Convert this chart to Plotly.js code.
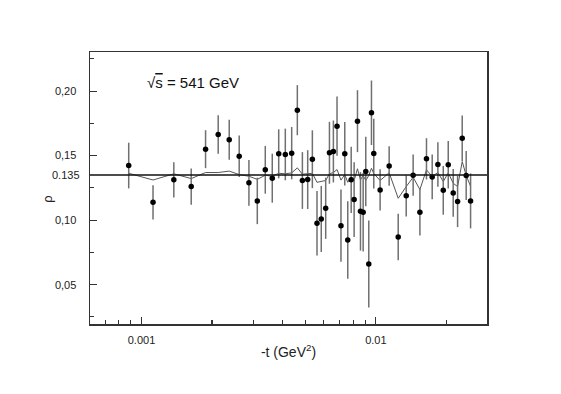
<!DOCTYPE html>
<html>
<head>
<meta charset="utf-8">
<script src="https://cdn.plot.ly/plotly-3.0.1.min.js"></script>
<style>
  html, body { margin: 0; padding: 0; background: #fff; }
  #chart { width: 561px; height: 394px; }
</style>
</head>
<body>
<div id="chart"></div>
<script>
// ------------------------------
// Data
// ------------------------------
const tVals = [0.000882, 0.00112, 0.001374, 0.00163, 0.001877, 0.002125, 0.002368, 0.002612, 0.002874, 0.00312,
  0.003375, 0.003615, 0.003851, 0.004109, 0.004375, 0.004624, 0.00486, 0.00512, 0.00536, 0.00561,
  0.00585, 0.00611, 0.00634, 0.00659, 0.00683, 0.0071, 0.00737, 0.00759, 0.00785, 0.00808,
  0.00835, 0.0086, 0.00883, 0.00906, 0.00933, 0.00958, 0.0098, 0.01043, 0.0114, 0.01246,
  0.01348, 0.01443, 0.01542, 0.01645, 0.0174, 0.0184, 0.0194, 0.02037, 0.02139, 0.02233,
  0.02337, 0.0243, 0.02537];

const rhoVals = [0.1423, 0.1138, 0.1312, 0.1260, 0.1550, 0.1664, 0.1623, 0.1495, 0.1289, 0.1149,
  0.1390, 0.1325, 0.1514, 0.1509, 0.1519, 0.1852, 0.1307, 0.1314, 0.1472, 0.0975,
  0.1009, 0.1092, 0.1522, 0.1532, 0.1728, 0.0957, 0.1514, 0.0846, 0.1312, 0.1159,
  0.1767, 0.1068, 0.1061, 0.1377, 0.0660, 0.1832, 0.1516, 0.1234, 0.1420, 0.0870,
  0.1188, 0.1348, 0.1061, 0.1475, 0.1335, 0.1431, 0.1231, 0.1429, 0.1211, 0.1144,
  0.1635, 0.1346, 0.1149];

const rhoErr = [0.0177, 0.0133, 0.0136, 0.0140, 0.0147, 0.0149, 0.0155, 0.0160, 0.0177, 0.0180,
  0.0185, 0.0190, 0.0190, 0.0200, 0.0203, 0.0194, 0.0220, 0.0228, 0.0224, 0.0250,
  0.0256, 0.0237, 0.0240, 0.0240, 0.0230, 0.0280, 0.0246, 0.0300, 0.0256, 0.0290,
  0.0240, 0.0304, 0.0305, 0.0270, 0.0337, 0.0250, 0.0270, 0.0160, 0.0153, 0.0180,
  0.0160, 0.0160, 0.0180, 0.0160, 0.0174, 0.0172, 0.0189, 0.0184, 0.0185, 0.0198,
  0.0176, 0.0190, 0.0213];

const rhoModel = [0.1363, 0.1311, 0.1359, 0.1322, 0.1369, 0.1369, 0.1380, 0.1353, 0.1340, 0.1316,
  0.1348, 0.1340, 0.1363, 0.1359, 0.1366, 0.1405, 0.1356, 0.1361, 0.1363, 0.1293,
  0.1299, 0.1307, 0.1359, 0.1369, 0.1392, 0.1310, 0.1353, 0.1293, 0.1338, 0.1307,
  0.1398, 0.1312, 0.1346, 0.1307, 0.1346, 0.1402, 0.1361, 0.1307, 0.1367, 0.1169,
  0.1260, 0.1332, 0.1237, 0.1390, 0.1338, 0.1369, 0.1299, 0.1367, 0.1286, 0.1260,
  0.1454, 0.1346, 0.1262];

const rhoRef = 0.135;
const rhoRefLabel = "0.135";

const yTickVals = [0.05, 0.10, 0.15, 0.20];
const yTickText = ["0,05", "0,10", "0,15", "0,20"];
const yMinorVals = [0.025, 0.075, 0.125, 0.175, 0.225];

const xTickVals = [0.001, 0.01];
const xTickText = ["0.001", "0.01"];
const xMinorVals = [0.0007, 0.0008, 0.0009, 0.002, 0.003, 0.004, 0.005, 0.006, 0.007, 0.008, 0.009, 0.02];

// ------------------------------
// Plot
// ------------------------------
const axisColor = "#333";

Plotly.newPlot(
  "chart",
  [
    {
      type: "scatter",
      mode: "lines",
      x: tVals,
      y: rhoModel,
      line: { color: "#555", width: 1 },
      hoverinfo: "skip",
    },
    {
      type: "scatter",
      mode: "markers",
      x: tVals,
      y: rhoVals,
      marker: { color: "#000", size: 5.5 },
      error_y: { type: "data", array: rhoErr, visible: true, color: "#707070", thickness: 1.5, width: 0 },
    },
  ],
  {
    width: 561,
    height: 394,
    showlegend: false,
    paper_bgcolor: "#fff",
    plot_bgcolor: "#fff",
    font: { family: "Liberation Sans, Arial, sans-serif", color: "#222", size: 11 },
    margin: { l: 90, r: 74, t: 52, b: 70 },
    xaxis: {
      type: "log",
      range: [-3.2197, -1.5256],
      automargin: true,
      showgrid: false,
      zeroline: false,
      showline: true,
      linecolor: axisColor,
      linewidth: 1.5,
      mirror: true,
      ticks: "inside",
      ticklen: 7,
      tickwidth: 1.2,
      tickcolor: axisColor,
      tickmode: "array",
      tickvals: xTickVals,
      ticktext: xTickText,
      ticklabelstandoff: 5,
      tickfont: { size: 11 },
      minor: { tickmode: "array", tickvals: xMinorVals, ticks: "inside", ticklen: 4, tickwidth: 1.2, tickcolor: axisColor, showgrid: false },
      title: { text: "-t (GeV<sup>2</sup>)", font: { size: 14 }, standoff: 2 },
    },
    yaxis: {
      range: [0.0195, 0.2303],
      showgrid: false,
      zeroline: false,
      showline: true,
      linecolor: axisColor,
      linewidth: 1.5,
      mirror: true,
      ticks: "inside",
      ticklen: 7,
      tickwidth: 1.2,
      tickcolor: axisColor,
      tickmode: "array",
      tickvals: yTickVals,
      ticktext: yTickText,
      ticklabelstandoff: 10,
      tickfont: { size: 11 },
      minor: { tickmode: "array", tickvals: yMinorVals, ticks: "inside", ticklen: 4, tickwidth: 1.2, tickcolor: axisColor, showgrid: false },
    },
    shapes: [
      {
        type: "line",
        xref: "paper",
        x0: 0,
        x1: 1,
        yref: "y",
        y0: rhoRef,
        y1: rhoRef,
        line: { color: "#111", width: 1.5 },
      },
    ],
    annotations: [
      {
        xref: "paper",
        yref: "paper",
        x: 0.138,
        y: 0.887,
        xanchor: "left",
        yanchor: "middle",
        showarrow: false,
        text: "√<span style='text-decoration:overline'>s</span> = 541 GeV",
        font: { size: 15, color: "#111" },
      },
      {
        // reference level label, sits a bit closer to the axis than the ticks
        xref: "paper",
        yref: "y",
        x: -0.019,
        y: rhoRef,
        xanchor: "right",
        yanchor: "middle",
        showarrow: false,
        text: rhoRefLabel,
        font: { size: 11, color: "#222" },
      },
      {
        // y title
        xref: "paper",
        yref: "paper",
        x: -0.106,
        y: 0.46,
        xanchor: "center",
        yanchor: "middle",
        textangle: -90,
        showarrow: false,
        text: "ρ",
        font: { size: 13, color: "#222" },
      },
    ],
  },
  { displayModeBar: false, staticPlot: true }
);
</script>
</body>
</html>
